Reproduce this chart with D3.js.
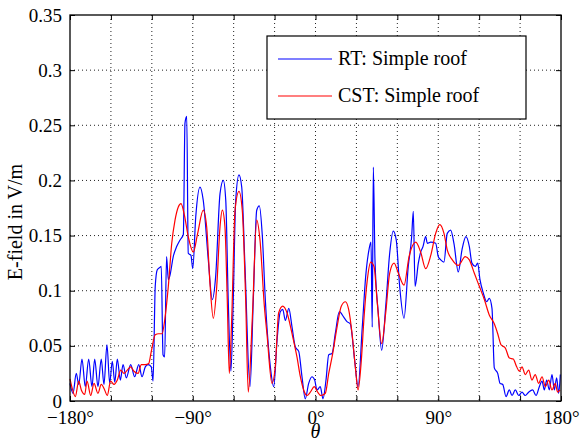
<!DOCTYPE html>
<html>
<head>
<meta charset="utf-8">
<script src="https://cdn.jsdelivr.net/npm/d3@7"></script>
<style>
  body { margin: 0; background: #fff; }
  svg text { font-family: "Liberation Serif", "Times New Roman", "DejaVu Serif", serif; fill: #000; }
</style>
</head>
<body>
<div id="graf"></div>
<script>
// Data
const rtTheta = [-180,-177.8,-175.4,-173.6,-171.2,-168.8,-166.3,-163.9,-161.9,-159.5,
  -157.1,-155.1,-152.9,-150.9,-149,-147.2,-145.3,-143.1,-141.1,-138.7,
  -135.5,-132.6,-129.6,-127.2,-124.8,-122.8,-120.4,-119.1,-117.5,-116,
  -114.2,-113.1,-111.8,-110.6,-109.2,-107.9,-106.7,-104.3,-101.8,-99.3,
  -96.9,-95.7,-94.4,-93.3,-91.3,-90,-87.8,-84.7,-82.3,-78.6,
  -75.7,-73.2,-70,-67.6,-65.8,-64,-62,-60.3,-58.5,-56.1,
  -54.1,-51.7,-48,-45.6,-43.1,-41.2,-39,-36.8,-33.1,-30.6,
  -28.2,-25.8,-24,-22.1,-19.6,-17.2,-14.8,-12.3,-9.9,-7.5,
  -5,-2.6,-0.6,1.1,3.5,5.5,7.7,9.7,12.1,14.5,
  17.5,20.7,23.1,25.5,28.7,31.2,34.3,36.8,39.2,40.7,
  41.6,42.4,43.6,46,48.5,51.5,54.4,57,59.2,61.7,
  64.9,68,70.5,71.7,73,75.4,77.1,78.8,80.8,82,
  84.5,88.1,90,91.8,94.2,96.6,99.1,101.5,104.7,107.4,
  110.3,112.8,114.7,117.2,118.9,120.6,123,125.5,127.4,129.4,
  131.1,133.6,135.3,137.3,139.7,142.1,144.1,146.5,149,151.4,
  153.8,156.3,159.2,161.7,164.1,166.1,167.8,169.5,171.4,173.4,
  175.1,176.8,178.3,179.5]
const rtValues = [0.016,0.007,0.025,0.015,0.038,0.013,0.038,0.013,0.038,0.013,
  0.038,0.015,0.051,0.016,0.036,0.017,0.038,0.019,0.033,0.021,
  0.033,0.022,0.033,0.022,0.031,0.033,0.031,0.018,0.104,0.119,
  0.121,0.122,0.042,0.040,0.131,0.110,0.114,0.131,0.140,0.146,
  0.151,0.252,0.258,0.134,0.132,0.120,0.167,0.194,0.182,0.128,
  0.092,0.113,0.188,0.200,0.182,0.092,0.027,0.092,0.182,0.205,
  0.194,0.122,0.013,0.092,0.173,0.177,0.150,0.092,0.031,0.013,
  0.055,0.081,0.083,0.073,0.084,0.067,0.049,0.045,0.022,0.002,
  0.016,0.022,0.019,0.010,0.013,0.002,0.019,0.042,0.043,0.061,
  0.081,0.076,0.072,0.070,0.037,0.013,0.067,0.113,0.137,0.144,
  0.067,0.212,0.128,0.080,0.046,0.086,0.134,0.154,0.146,0.104,
  0.075,0.122,0.149,0.172,0.104,0.125,0.135,0.140,0.149,0.143,
  0.144,0.143,0.131,0.128,0.126,0.152,0.155,0.143,0.117,0.137,
  0.149,0.140,0.125,0.122,0.125,0.110,0.098,0.090,0.093,0.084,
  0.030,0.025,0.016,0.015,0.004,0.010,0.005,0.010,0.005,0.008,
  0.005,0.008,0.010,0.005,0.013,0.018,0.010,0.019,0.010,0.024,
  0.010,0.021,0.007,0.024]

const cstTheta = [-180,-178.5,-176.1,-173.6,-171.7,-169.2,-167.5,-164.8,-162.4,-159.5,
  -157.1,-154.6,-152.7,-150.2,-147.7,-145.3,-142.8,-140.4,-138,-135.5,
  -133.1,-130.1,-127.7,-124.8,-122.3,-120.4,-117.5,-115,-112.5,-110.6,
  -107.9,-105.4,-103,-100.6,-98.6,-96.2,-93.3,-89.6,-86.4,-82.3,
  -79.8,-77.4,-74.9,-72.4,-70,-68.3,-66.4,-64.7,-63.2,-61.4,
  -59,-56.1,-53.7,-51.2,-49.3,-46.3,-43.1,-40.7,-37.5,-35.6,
  -31.9,-29.5,-27,-24,-20.9,-17.2,-13.6,-11.1,-8.7,-6.2,
  -3.8,-0.9,1.6,4,7.2,9.7,12.6,15.8,18.9,21.9,
  24.3,26.8,29.2,31.2,33.6,35.6,38,40.5,42.9,45.3,
  48.5,51.5,54.4,57.6,60.7,64.9,68.6,73.5,77.1,80.8,
  84.5,88.1,91.1,94.2,96.6,100.3,104.7,109.8,112.8,116.4,
  120.1,123.8,127.4,131.1,133.6,136,139.2,142.1,145,147.5,
  149.4,151.4,153.8,156.3,158.7,161.1,163.6,166.1,168.5,171,
  173.4,175.8,177.5,179.3]
const cstValues = [0.020,0.012,0.004,0.018,0.010,0.006,0.018,0.005,0.016,0.007,
  0.015,0.010,0.005,0.018,0.015,0.019,0.028,0.025,0.028,0.031,
  0.027,0.025,0.033,0.033,0.034,0.045,0.060,0.061,0.061,0.073,
  0.104,0.143,0.164,0.176,0.179,0.169,0.149,0.135,0.152,0.173,
  0.158,0.107,0.075,0.104,0.158,0.173,0.158,0.092,0.025,0.076,
  0.173,0.190,0.173,0.092,0.008,0.076,0.164,0.146,0.086,0.061,
  0.016,0.031,0.080,0.086,0.080,0.061,0.040,0.022,0.010,0.005,
  0.008,0.013,0.008,0.005,0.007,0.025,0.043,0.067,0.086,0.090,
  0.083,0.061,0.031,0.010,0.037,0.076,0.110,0.126,0.122,0.089,
  0.052,0.080,0.116,0.125,0.116,0.105,0.131,0.144,0.135,0.120,
  0.132,0.152,0.160,0.152,0.137,0.128,0.123,0.131,0.128,0.116,
  0.104,0.092,0.078,0.070,0.061,0.051,0.048,0.039,0.038,0.031,
  0.027,0.031,0.024,0.028,0.019,0.024,0.016,0.022,0.013,0.019,
  0.010,0.016,0.008,0.010]

const xTicks = [-180,-150,-120,-90,-60,-30,0,30,60,90,120,150,180]
const xLabelled = [-180,-90,0,90,180]
const yTicks = [0,0.05,0.1,0.15,0.2,0.25,0.3,0.35]

const series = [
  { name: "RT: Simple roof", color: "#0000ff", theta: rtTheta, values: rtValues },
  { name: "CST: Simple roof", color: "#ff0000", theta: cstTheta, values: cstValues },
]

// Dimensions
const anchoTotal = 580
const altoTotal = 441
const margins = { top: 15, right: 19, bottom: 40, left: 70 }
const ancho = anchoTotal - margins.left - margins.right
const alto = altoTotal - margins.top - margins.bottom

const svg = d3.select("#graf")
  .append("svg")
  .attr("width", anchoTotal)
  .attr("height", altoTotal)

const g = svg.append("g")
  .attr("transform", `translate(${margins.left}, ${margins.top})`)

// Scales
const x = d3.scaleLinear().domain([-180, 180]).range([0, ancho])
const y = d3.scaleLinear().domain([0, 0.35]).range([alto, 0])

// Grid
const grid = g.append("g")
grid.selectAll("line.vx")
  .data(xTicks.slice(1, -1))
  .join("line")
  .attr("x1", (d) => x(d)).attr("x2", (d) => x(d))
  .attr("y1", 0).attr("y2", alto)
grid.selectAll("line.hy")
  .data(yTicks.slice(1, -1))
  .join("line")
  .attr("x1", 0).attr("x2", ancho)
  .attr("y1", (d) => y(d)).attr("y2", (d) => y(d))
grid.selectAll("line")
  .attr("stroke", "#222")
  .attr("stroke-width", 1)
  .attr("stroke-dasharray", "1,3")

// Lines
const line = d3.line()
  .x((d) => x(d[0]))
  .y((d) => y(d[1]))
  .curve(d3.curveMonotoneX)

g.selectAll("path.serie")
  .data(series)
  .join("path")
  .attr("class", "serie")
  .attr("d", (s) => line(d3.zip(s.theta, s.values)))
  .attr("fill", "none")
  .attr("stroke", (s) => s.color)
  .attr("stroke-width", 1.2)
  .attr("stroke-linejoin", "round")

// Axes (ticks point inward, mirrored on top/right)
const fmtX = (d) => xLabelled.includes(d) ? `${d < 0 ? "\u2212" : ""}${Math.abs(d)}°` : ""
const fmtY = (d) => d === 0 ? "0" : d3.format("")(+d.toFixed(2))

const xAxis = g.append("g")
  .attr("transform", `translate(0, ${alto})`)
  .call(d3.axisBottom(x).tickValues(xTicks).tickSize(-5).tickPadding(10).tickFormat(fmtX))
const xAxisTop = g.append("g")
  .call(d3.axisTop(x).tickValues(xTicks).tickSize(-5).tickFormat(""))
const yAxis = g.append("g")
  .call(d3.axisLeft(y).tickValues(yTicks).tickSize(-5).tickPadding(8).tickFormat(fmtY))
const yAxisRight = g.append("g")
  .attr("transform", `translate(${ancho}, 0)`)
  .call(d3.axisRight(y).tickValues(yTicks).tickSize(-5).tickFormat(""))

;[xAxis, xAxisTop, yAxis, yAxisRight].forEach((a) => {
  a.attr("font-family", null)
  a.select(".domain").remove()
  a.selectAll(".tick line").attr("stroke", "#000")
  a.selectAll("text").attr("font-size", 19)
})

g.append("rect")
  .attr("width", ancho)
  .attr("height", alto)
  .attr("fill", "none")
  .attr("stroke", "#000")
  .attr("stroke-width", 1.3)

// Axis titles
svg.append("text")
  .attr("transform", `translate(22, 222) rotate(-90)`)
  .attr("text-anchor", "middle")
  .attr("font-size", 20)
  .text("E-field in V/m")

svg.append("text")
  .attr("x", margins.left + x(0))
  .attr("y", 438)
  .attr("text-anchor", "middle")
  .attr("font-size", 20)
  .attr("font-style", "italic")
  .text("θ")

// Legend
const legend = svg.append("g").attr("transform", "translate(267, 36)")
legend.append("rect")
  .attr("width", 259)
  .attr("height", 83)
  .attr("fill", "#fff")
  .attr("stroke", "#000")
  .attr("stroke-width", 1.2)

const item = legend.selectAll("g.item")
  .data(series)
  .join("g")
  .attr("class", "item")
  .attr("transform", (d, i) => `translate(0, ${23 + i * 37})`)
item.append("line")
  .attr("x1", 11).attr("x2", 65)
  .attr("stroke", (d) => d.color)
  .attr("stroke-width", 1.2)
item.append("text")
  .attr("x", 71)
  .attr("y", 6)
  .attr("font-size", 20)
  .text((d) => d.name)
</script>
</body>
</html>
